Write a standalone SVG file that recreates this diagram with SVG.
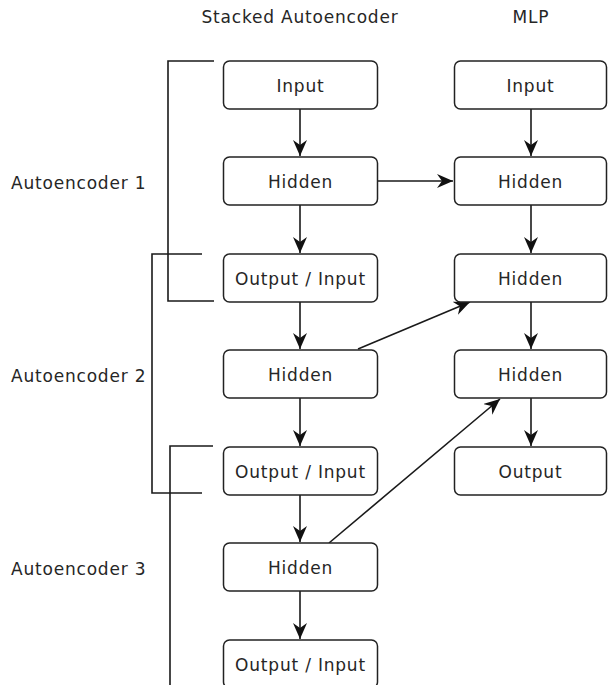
<svg xmlns="http://www.w3.org/2000/svg" width="608" height="685" viewBox="0 0 608 685">
  <style>
    .box { fill: #ffffff; stroke: #222222; stroke-width: 1.5; }
    .lbl { font-family: "DejaVu Sans", "Liberation Sans", sans-serif; font-size: 17px; letter-spacing: 0.8px; fill: #262626; }
    .mid { text-anchor: middle; }
    .edge { stroke: #1a1a1a; stroke-width: 1.6; fill: none; }
    .bracket { stroke: #1a1a1a; stroke-width: 1.6; fill: none; }
  </style>
  <defs>
    <marker id="arrow" markerUnits="userSpaceOnUse" markerWidth="17" markerHeight="15" refX="16" refY="7" orient="auto" viewBox="0 0 17 15">
      <path d="M0,0 L16,7 L0,14 L5,7 Z" fill="#111111"/>
    </marker>
  </defs>
  <rect width="608" height="685" fill="#ffffff"/>

  <!-- column titles -->
  <text class="lbl mid" x="300" y="23">Stacked Autoencoder</text>
  <text class="lbl mid" x="531" y="23">MLP</text>

  <!-- autoencoder group labels -->
  <text class="lbl" x="11" y="189">Autoencoder 1</text>
  <text class="lbl" x="11" y="382">Autoencoder 2</text>
  <text class="lbl" x="11" y="575">Autoencoder 3</text>

  <!-- brackets marking each autoencoder -->
  <g id="brackets">
    <path class="bracket" d="M214,61 H168 V301 H214"/>
    <path class="bracket" d="M202,254 H152 V493 H202"/>
    <path class="bracket" d="M213,446 H170 V685"/>
  </g>

  <!-- connectors -->
  <g id="connectors">
    <line class="edge" x1="300" y1="109" x2="300" y2="156" marker-end="url(#arrow)"/>
    <line class="edge" x1="300" y1="205" x2="300" y2="253" marker-end="url(#arrow)"/>
    <line class="edge" x1="300" y1="302" x2="300" y2="349" marker-end="url(#arrow)"/>
    <line class="edge" x1="300" y1="398" x2="300" y2="446" marker-end="url(#arrow)"/>
    <line class="edge" x1="300" y1="495" x2="300" y2="542" marker-end="url(#arrow)"/>
    <line class="edge" x1="300" y1="591" x2="300" y2="639" marker-end="url(#arrow)"/>

    <line class="edge" x1="531" y1="109" x2="531" y2="156" marker-end="url(#arrow)"/>
    <line class="edge" x1="531" y1="205" x2="531" y2="253" marker-end="url(#arrow)"/>
    <line class="edge" x1="531" y1="302" x2="531" y2="349" marker-end="url(#arrow)"/>
    <line class="edge" x1="531" y1="398" x2="531" y2="446" marker-end="url(#arrow)"/>

    <line class="edge" x1="377" y1="181" x2="453" y2="181" marker-end="url(#arrow)"/>
    <line class="edge" x1="358" y1="349" x2="470" y2="302" marker-end="url(#arrow)"/>
    <line class="edge" x1="329" y1="543" x2="500" y2="399" marker-end="url(#arrow)"/>
  </g>

  <!-- stacked autoencoder column -->
  <g id="sae-input"><rect class="box" x="223.5" y="61" width="154" height="48" rx="6"/><text class="lbl mid" x="300.5" y="92">Input</text></g>
  <g id="sae-hidden1"><rect class="box" x="223.5" y="157" width="154" height="48" rx="6"/><text class="lbl mid" x="300.5" y="188">Hidden</text></g>
  <g id="sae-out1"><rect class="box" x="223.5" y="254" width="154" height="48" rx="6"/><text class="lbl mid" x="300.5" y="285">Output / Input</text></g>
  <g id="sae-hidden2"><rect class="box" x="223.5" y="350" width="154" height="48" rx="6"/><text class="lbl mid" x="300.5" y="381">Hidden</text></g>
  <g id="sae-out2"><rect class="box" x="223.5" y="447" width="154" height="48" rx="6"/><text class="lbl mid" x="300.5" y="478">Output / Input</text></g>
  <g id="sae-hidden3"><rect class="box" x="223.5" y="543" width="154" height="48" rx="6"/><text class="lbl mid" x="300.5" y="574">Hidden</text></g>
  <g id="sae-out3"><rect class="box" x="223.5" y="640" width="154" height="48" rx="6"/><text class="lbl mid" x="300.5" y="671">Output / Input</text></g>

  <!-- MLP column -->
  <g id="mlp-input"><rect class="box" x="454.5" y="61" width="152" height="48" rx="6"/><text class="lbl mid" x="530.5" y="92">Input</text></g>
  <g id="mlp-hidden1"><rect class="box" x="454.5" y="157" width="152" height="48" rx="6"/><text class="lbl mid" x="530.5" y="188">Hidden</text></g>
  <g id="mlp-hidden2"><rect class="box" x="454.5" y="254" width="152" height="48" rx="6"/><text class="lbl mid" x="530.5" y="285">Hidden</text></g>
  <g id="mlp-hidden3"><rect class="box" x="454.5" y="350" width="152" height="48" rx="6"/><text class="lbl mid" x="530.5" y="381">Hidden</text></g>
  <g id="mlp-output"><rect class="box" x="454.5" y="447" width="152" height="48" rx="6"/><text class="lbl mid" x="530.5" y="478">Output</text></g>
</svg>
